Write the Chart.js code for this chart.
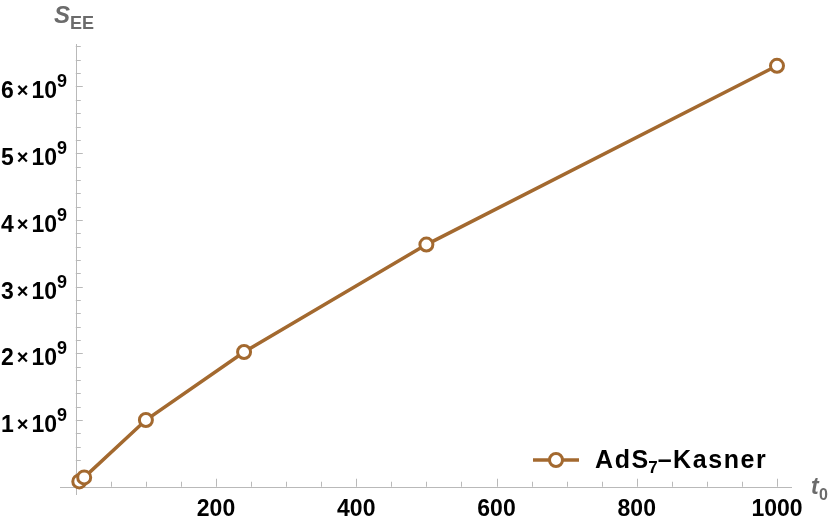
<!DOCTYPE html>
<html>
<head>
<meta charset="utf-8">
<script src="https://cdn.jsdelivr.net/npm/chart.js@4/dist/chart.umd.min.js"></script>
<style>
html,body{margin:0;padding:0;background:#fff;}
canvas{display:block;}
</style>
</head>
<body>
<canvas id="c" width="830" height="524"></canvas>
<script>
// Data
const t0Values = [5, 12, 100, 240, 500, 1000];
const seeValues = [0.08e9, 0.14e9, 1.0e9, 2.02e9, 3.63e9, 6.31e9];
const xTickValues = [200, 400, 600, 800, 1000];
const xTickLabels = ["200", "400", "600", "800", "1000"];
const yTickValues = [1e9, 2e9, 3e9, 4e9, 5e9, 6e9];
const yTickMantissa = ["1", "2", "3", "4", "5", "6"];
const yTickExponent = "9";
const seriesLabel = "AdS₇–Kasner";

const COLOR = '#a3692f';
const AXIS = '#b9b9b9';
const FONT = '"Liberation Sans", Arial, sans-serif';

const axesPlugin = {
  id: 'mmaAxes',
  beforeDatasetsDraw(chart) {
    const ctx = chart.ctx;
    const xs = chart.scales.x, ys = chart.scales.y;
    const ca = chart.chartArea;
    const x0 = xs.getPixelForValue(0), y0 = ys.getPixelForValue(0);
    ctx.save();
    ctx.strokeStyle = AXIS;
    ctx.lineWidth = 1;
    ctx.beginPath();
    ctx.moveTo(ca.left, Math.round(y0) + 0.5);
    ctx.lineTo(ca.right, Math.round(y0) + 0.5);
    ctx.moveTo(Math.round(x0) + 0.5, ca.top);
    ctx.lineTo(Math.round(x0) + 0.5, ca.bottom);
    ctx.stroke();
    ctx.beginPath();
    for (let v = 50; v <= 1000; v += 50) {
      const px = Math.round(xs.getPixelForValue(v)) + 0.5;
      const len = (v % 200 === 0) ? 8 : 5;
      ctx.moveTo(px, y0);
      ctx.lineTo(px, y0 - len);
    }
    for (let k = 1; k <= 33; k++) {
      const v = k * 0.2e9;
      const py = Math.round(ys.getPixelForValue(v)) + 0.5;
      const len = (k % 5 === 0) ? 7 : 5;
      ctx.moveTo(x0, py);
      ctx.lineTo(x0 + len, py);
    }
    ctx.stroke();
    // x labels
    ctx.fillStyle = '#000';
    ctx.font = 'bold 23px ' + FONT;
    ctx.textAlign = 'center';
    ctx.textBaseline = 'alphabetic';
    xTickValues.forEach((v, i) => {
      ctx.fillText(xTickLabels[i], xs.getPixelForValue(v), 516);
    });
    // y labels
    ctx.textAlign = 'left';
    yTickValues.forEach((v, i) => {
      const py = ys.getPixelForValue(v);
      const right = 67;
      ctx.font = 'bold 18px ' + FONT;
      const ew = ctx.measureText(yTickExponent).width;
      let x = right - ew;
      ctx.fillText(yTickExponent, x, py + 1);
      ctx.font = 'bold 23px ' + FONT;
      const tw = ctx.measureText('10').width;
      x -= tw;
      ctx.fillText('10', x, py + 12);
      ctx.font = 'bold 20px ' + FONT;
      const mw = ctx.measureText('\u00d7').width;
      x -= mw + 3;
      ctx.fillText('\u00d7', x, py + 11);
      ctx.font = 'bold 23px ' + FONT;
      const aw = ctx.measureText(yTickMantissa[i]).width;
      x -= aw + 3;
      ctx.fillText(yTickMantissa[i], x, py + 12);
    });
    // axis titles
    ctx.fillStyle = '#6b6b6b';
    ctx.font = 'italic bold 24px ' + FONT;
    ctx.fillText('S', 54, 23);
    ctx.font = 'bold 18px ' + FONT;
    ctx.fillText('EE', 70, 29);
    ctx.font = 'italic bold 23px ' + FONT;
    ctx.fillText('t', 811, 494);
    ctx.font = 'bold 16px ' + FONT;
    ctx.fillText('0', 819, 500);
    ctx.restore();
  },
  afterDraw(chart) {
    const ctx = chart.ctx;
    ctx.save();
    const ly = 460;
    ctx.strokeStyle = COLOR;
    ctx.lineWidth = 3.5;
    ctx.beginPath();
    ctx.moveTo(533, ly);
    ctx.lineTo(579, ly);
    ctx.stroke();
    ctx.beginPath();
    ctx.arc(556, ly, 6.5, 0, Math.PI * 2);
    ctx.fillStyle = '#fff';
    ctx.fill();
    ctx.lineWidth = 3;
    ctx.stroke();
    ctx.fillStyle = '#000';
    ctx.textAlign = 'left';
    const parts = seriesLabel.split('₇');
    const big = 'bold 25px ' + FONT, small = 'bold 17px ' + FONT;
    ctx.font = big;
    const w0 = ctx.measureText(parts[0]).width, w1 = ctx.measureText(parts[1]).width;
    ctx.font = small;
    const ws = ctx.measureText('7').width;
    const nChars = parts[0].length + parts[1].length;
    const sp = Math.max(0, (174 - (w0 + w1 + ws)) / nChars);
    let x = 595;
    const draw = (s, font, y) => {
      ctx.font = font;
      for (const ch of s) {
        ctx.fillText(ch, x, y);
        x += ctx.measureText(ch).width + sp;
      }
    };
    draw(parts[0], big, 468);
    x -= sp;
    ctx.font = small;
    ctx.fillText('7', x, 473);
    x += ws;
    draw(parts[1], big, 468);
    ctx.restore();
  }
};

new Chart(document.getElementById('c'), {
  type: 'line',
  data: {
    datasets: [{
      label: seriesLabel,
      data: t0Values.map((t, i) => ({x: t, y: seeValues[i]})),
      borderColor: COLOR,
      backgroundColor: '#fff',
      borderWidth: 3.5,
      pointRadius: 6.5,
      pointBorderWidth: 3,
      pointBackgroundColor: '#fff',
      pointBorderColor: COLOR,
      tension: 0,
      clip: false
    }]
  },
  options: {
    responsive: false,
    animation: false,
    layout: {padding: {left: 60, right: 38, top: 44, bottom: 29}},
    plugins: {legend: {display: false}, tooltip: {enabled: false}},
    scales: {
      x: {type: 'linear', min: -22.5, max: 1021.4, display: false},
      y: {type: 'linear', min: -0.124e9, max: 6.637e9, display: false}
    }
  },
  plugins: [axesPlugin]
});
</script>
</body>
</html>
